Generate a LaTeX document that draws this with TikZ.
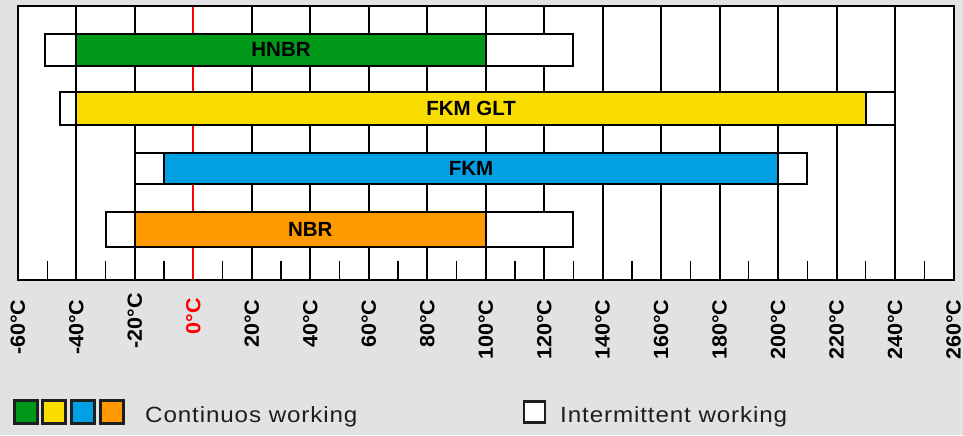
\documentclass[tikz,border=0pt]{standalone}
\usepackage{fontspec}
\setmainfont{Liberation Sans}
\definecolor{bgcol}{RGB}{225,226,228}
\definecolor{cgreen}{RGB}{0,152,24}
\definecolor{cyellow}{RGB}{250,221,0}
\definecolor{cblue}{RGB}{0,160,227}
\definecolor{corange}{RGB}{255,153,0}
\definecolor{cred}{RGB}{255,0,0}
\definecolor{legtext}{RGB}{30,30,30}
\tikzset{
  gridline/.style={line width=2pt},
  tickline/.style={line width=1.2pt},
  intbar/.style={draw=black, fill=white, line width=2pt},
  contbar/.style={draw=black, line width=2pt},
  barlabel/.style={font=\fontsize{20.5}{24}\selectfont\bfseries, inner sep=0pt},
  axlabel/.style={font=\fontsize{20.5}{24}\selectfont\bfseries\addfontfeature{FakeStretch=1.05}, rotate=90, anchor=east, inner sep=0pt},
  legsq/.style={draw=legtext, line width=2.4pt, minimum size=23pt, inner sep=0pt},
  legtxt/.style={font=\fontsize{22}{26}\selectfont\addfontfeature{FakeStretch=1.1,LetterSpace=4}, text=legtext, anchor=base west, inner sep=0pt}
}
\begin{document}
\begin{tikzpicture}[x=2.924pt,y=-1pt]
\useasboundingbox (-66.11,0) rectangle (263.23,435);
\fill[bgcol] (-66.11,0) rectangle (263.23,435);
% chart area
\fill[white] (-60,6.3) rectangle (260,280);
\foreach \t in {-40,-20,20,40,...,240}
  \draw[gridline] (\t,6.3) -- (\t,280);
\draw[cred, line width=1.8pt] (0,6.3) -- (0,280);
\foreach \t in {-50,-30,...,250}
  \draw[tickline] (\t,260.7) -- (\t,280);
% HNBR
\draw[intbar] (-50.6,33.7) rectangle (130,65.7);
\draw[contbar, fill=cgreen] (-40,33.7) rectangle (100,65.7);
\node[barlabel] (hnbr) at (30,49.7) {HNBR};
% FKM GLT
\draw[intbar] (-45.5,92.3) rectangle (240,125.3);
\draw[contbar, fill=cyellow] (-40,92.3) rectangle (230,125.3);
\node[barlabel] (fkmglt) at (95,108.8) {FKM GLT};
% FKM
\draw[intbar] (-20,153) rectangle (210,183.7);
\draw[contbar, fill=cblue] (-10,153) rectangle (200,183.7);
\node[barlabel] (fkm) at (95,168.4) {FKM};
% NBR
\draw[intbar] (-30,211.7) rectangle (130,247);
\draw[contbar, fill=corange] (-20,211.7) rectangle (100,247);
\node[barlabel] (nbr) at (40,229.3) {NBR};
% frame
\draw[line width=2pt] (-60,6.3) rectangle (260,280);
% axis labels
\foreach \t [count=\i] in {-60,-40,40,60,...,260}
  \node[axlabel] (ax\i) at (\t,299.5) {\t°C};
\node[axlabel] (axm20) at (-20,293) {-20°C};
\node[axlabel] (ax20) at (20,299.5) {20°C};
\node[axlabel, text=cred] (ax0) at (0,298) {0°C};
% legend
\node[legsq, fill=cgreen] (lg1) at (-57.28,412) {};
\node[legsq, fill=cyellow] (lg2) at (-47.69,412) {};
\node[legsq, fill=cblue] (lg3) at (-37.72,412) {};
\node[legsq, fill=corange] (lg4) at (-27.75,412) {};
\node[legtxt] (lgc) at (-16.52,422.7) {Continuos working};
\node[legsq, fill=white, minimum size=21pt] (lgi) at (116.62,412) {};
\node[legtxt] (lgit) at (125.41,422.7) {Intermittent working};
\end{tikzpicture}
\end{document}
